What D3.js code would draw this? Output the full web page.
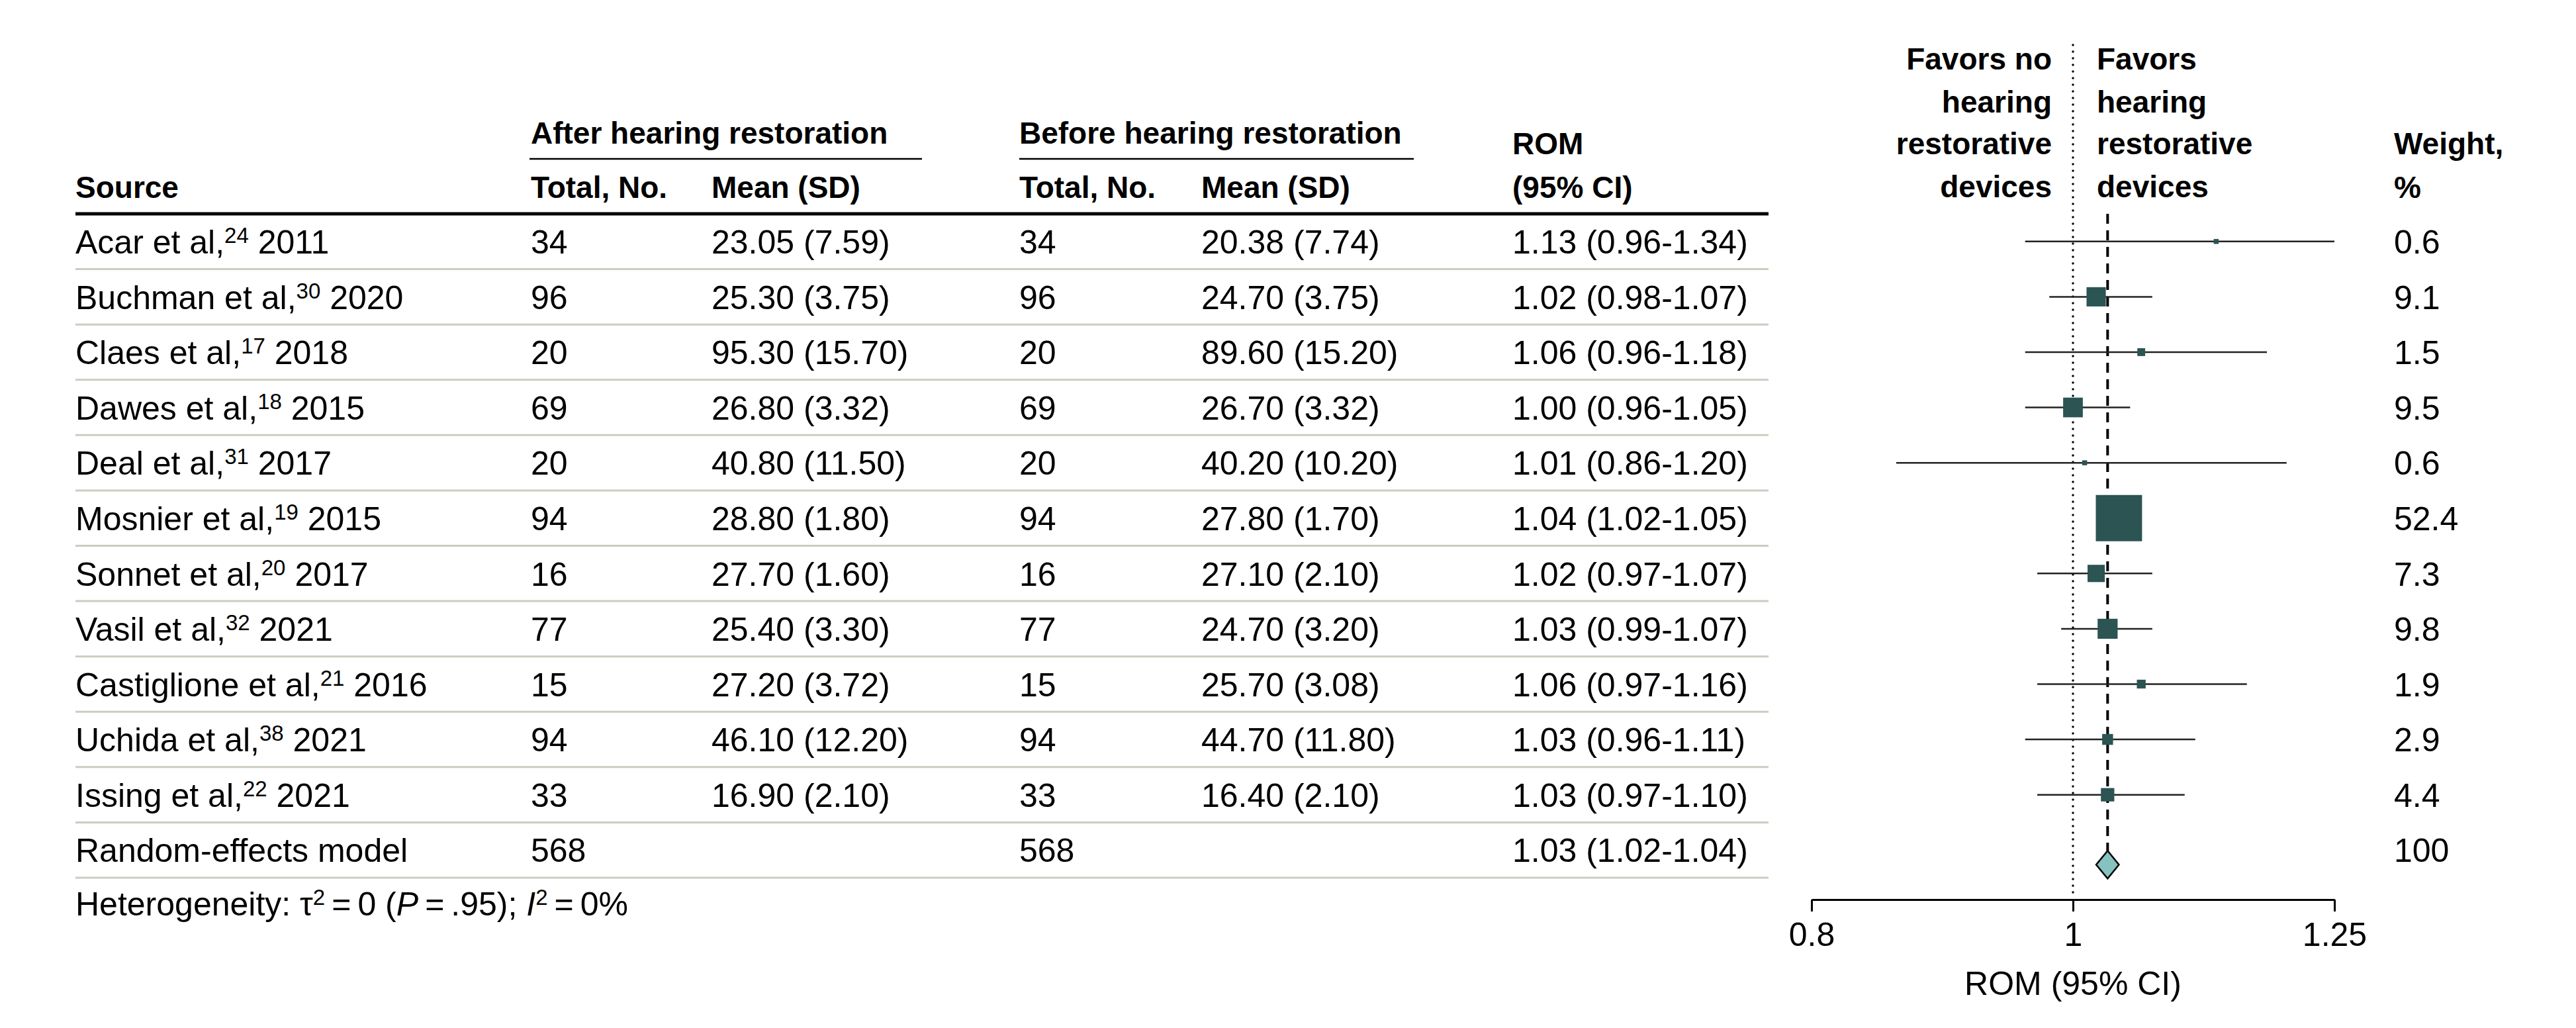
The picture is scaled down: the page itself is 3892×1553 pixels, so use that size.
<!DOCTYPE html>
<html>
<head>
<meta charset="utf-8">
<script src="https://cdn.jsdelivr.net/npm/d3@7"></script>
<style>
    body { margin: 0; background: #fff; }
    svg text { font-family: "Liberation Sans", Arial, sans-serif; fill: #000; }
    .hd { font-weight: bold; font-size: 46px; }
    .cell { font-size: 50px; }
</style>
</head>
<body>
<div id="chart"></div>
<script>
    // study rows
    var authors = ["Acar et al,", "Buchman et al,", "Claes et al,", "Dawes et al,", "Deal et al,",
        "Mosnier et al,", "Sonnet et al,", "Vasil et al,", "Castiglione et al,", "Uchida et al,", "Issing et al,"];
    var refs = ["24", "30", "17", "18", "31", "19", "20", "32", "21", "38", "22"];
    var years = ["2011", "2020", "2018", "2015", "2017", "2015", "2017", "2021", "2016", "2021", "2021"];
    var afterTotal = [34, 96, 20, 69, 20, 94, 16, 77, 15, 94, 33];
    var afterMeanSd = ["23.05 (7.59)", "25.30 (3.75)", "95.30 (15.70)", "26.80 (3.32)", "40.80 (11.50)",
        "28.80 (1.80)", "27.70 (1.60)", "25.40 (3.30)", "27.20 (3.72)", "46.10 (12.20)", "16.90 (2.10)"];
    var beforeTotal = [34, 96, 20, 69, 20, 94, 16, 77, 15, 94, 33];
    var beforeMeanSd = ["20.38 (7.74)", "24.70 (3.75)", "89.60 (15.20)", "26.70 (3.32)", "40.20 (10.20)",
        "27.80 (1.70)", "27.10 (2.10)", "24.70 (3.20)", "25.70 (3.08)", "44.70 (11.80)", "16.40 (2.10)"];
    var rom = [1.13, 1.02, 1.06, 1.00, 1.01, 1.04, 1.02, 1.03, 1.06, 1.03, 1.03];
    var romLow = [0.96, 0.98, 0.96, 0.96, 0.86, 1.02, 0.97, 0.99, 0.97, 0.96, 0.97];
    var romHigh = [1.34, 1.07, 1.18, 1.05, 1.20, 1.05, 1.07, 1.07, 1.16, 1.11, 1.10];
    var weights = [0.6, 9.1, 1.5, 9.5, 0.6, 52.4, 7.3, 9.8, 1.9, 2.9, 4.4];

    // pooled
    var pooledLabel = "Random-effects model";
    var pooledAfterTotal = 568, pooledBeforeTotal = 568;
    var pooledRom = 1.03, pooledLow = 1.02, pooledHigh = 1.04, pooledWeight = 100;

    var axisTicks = [0.8, 1, 1.25];

    var W = 3892, H = 1553;
    var colX = {source: 114, tot1: 802, mean1: 1075, tot2: 1540, mean2: 1815, rom: 2285, weight: 3617};
    var tableLeft = 114, tableRight = 2672;
    var nRows = authors.length + 1;
    var supSize = 33, supShift = 16;

    var svg = d3.select("#chart").append("svg")
        .attr("width", W).attr("height", H);

    var y = d3.scaleLinear().domain([0, nRows]).range([323, 1326]);
    var x = d3.scaleLog().domain([0.8, 1.25]).range([2737, 3527]);
    var f2 = d3.format(".2f");

    // ----- header -----
    var hdr = svg.append("g");
    function hText(tx, ty, s, anchor) {
        hdr.append("text").attr("class", "hd").attr("x", tx).attr("y", ty)
            .attr("text-anchor", anchor || "start").text(s);
    }
    hText(colX.tot1, 217, "After hearing restoration");
    hText(colX.tot2, 217, "Before hearing restoration");
    hdr.append("line").attr("x1", 800).attr("x2", 1393).attr("y1", 240).attr("y2", 240)
        .attr("stroke", "#000").attr("stroke-width", 2.5);
    hdr.append("line").attr("x1", 1540).attr("x2", 2136).attr("y1", 240).attr("y2", 240)
        .attr("stroke", "#000").attr("stroke-width", 2.5);
    hText(colX.source, 299, "Source");
    hText(colX.tot1, 299, "Total, No.");
    hText(colX.mean1, 299, "Mean (SD)");
    hText(colX.tot2, 299, "Total, No.");
    hText(colX.mean2, 299, "Mean (SD)");
    hText(colX.rom, 233, "ROM");
    hText(colX.rom, 299, "(95% CI)");
    hText(colX.weight, 233, "Weight,");
    hText(colX.weight, 299, "%");

    var favL = ["Favors no", "hearing", "restorative", "devices"];
    var favR = ["Favors", "hearing", "restorative", "devices"];
    var favY = [105, 170, 233, 298];
    favL.forEach(function (s, i) { hText(3100, favY[i], s, "end"); });
    favR.forEach(function (s, i) { hText(3168, favY[i], s); });

    // ----- table rules -----
    svg.append("g").selectAll("line")
        .data(d3.range(1, nRows + 1))
        .enter().append("line")
        .attr("x1", tableLeft).attr("x2", tableRight)
        .attr("y1", function (d) { return y(d); }).attr("y2", function (d) { return y(d); })
        .attr("stroke", "#c9cec0").attr("stroke-width", 3);
    svg.append("line").attr("x1", tableLeft).attr("x2", tableRight)
        .attr("y1", y(0)).attr("y2", y(0))
        .attr("stroke", "#000").attr("stroke-width", 5);

    // ----- table body -----
    var base = function (i) { return y(i) + 60; };
    var body = svg.append("g").attr("class", "cell");

    var rows = body.selectAll("g.row")
        .data(authors.map(function (a, i) { return i; }))
        .enter().append("g").attr("class", "row");

    var src = rows.append("text").attr("class", "cell")
        .attr("x", colX.source).attr("y", function (i) { return base(i); });
    src.append("tspan").text(function (i) { return authors[i]; });
    src.append("tspan").attr("font-size", supSize).attr("dy", -supShift).text(function (i) { return refs[i]; });
    src.append("tspan").attr("dy", supShift).text(function (i) { return " " + years[i]; });

    function col(key, fn) {
        rows.append("text").attr("class", "cell").attr("x", colX[key])
            .attr("y", function (i) { return base(i); }).text(fn);
    }
    col("tot1", function (i) { return afterTotal[i]; });
    col("mean1", function (i) { return afterMeanSd[i]; });
    col("tot2", function (i) { return beforeTotal[i]; });
    col("mean2", function (i) { return beforeMeanSd[i]; });
    col("rom", function (i) { return f2(rom[i]) + " (" + f2(romLow[i]) + "-" + f2(romHigh[i]) + ")"; });
    col("weight", function (i) { return d3.format(".1f")(weights[i]); });

    // pooled row
    var pr = authors.length;
    function pText(tx, s) {
        body.append("text").attr("class", "cell").attr("x", tx).attr("y", base(pr)).text(s);
    }
    pText(colX.source, pooledLabel);
    pText(colX.tot1, pooledAfterTotal);
    pText(colX.tot2, pooledBeforeTotal);
    pText(colX.rom, f2(pooledRom) + " (" + f2(pooledLow) + "-" + f2(pooledHigh) + ")");
    pText(colX.weight, pooledWeight);

    // heterogeneity
    var het = svg.append("text").attr("class", "cell").attr("x", colX.source).attr("y", 1383);
    het.append("tspan").text("Heterogeneity: \u03c4");
    het.append("tspan").attr("font-size", supSize).attr("dy", -supShift).text("2");
    het.append("tspan").attr("dy", supShift).text("\u2009=\u20090 (");
    het.append("tspan").attr("font-style", "italic").text("P");
    het.append("tspan").text("\u2009=\u2009.95); ");
    het.append("tspan").attr("font-style", "italic").text("I");
    het.append("tspan").attr("font-size", supSize).attr("dy", -supShift).text("2");
    het.append("tspan").attr("dy", supShift).text("\u2009=\u20090%");

    // ----- forest plot -----
    var plot = svg.append("g");
    var mid = function (i) { return y(i + 0.5); };

    // no-effect line (dotted)
    plot.append("line").attr("x1", x(1)).attr("x2", x(1)).attr("y1", 68).attr("y2", 1352)
        .attr("stroke", "#000").attr("stroke-width", 3.5)
        .attr("stroke-linecap", "round").attr("stroke-dasharray", "0,10");

    // pooled estimate line (dashed)
    var dY = mid(pr) + 22;
    plot.append("line").attr("x1", x(pooledRom)).attr("x2", x(pooledRom))
        .attr("y1", y(0)).attr("y2", dY - 21)
        .attr("stroke", "#000").attr("stroke-width", 4).attr("stroke-dasharray", "15,10");

    var lo = x.domain()[0], hi = x.domain()[1];
    plot.selectAll("line.ci")
        .data(d3.range(authors.length))
        .enter().append("line").attr("class", "ci")
        .attr("x1", function (i) { return x(Math.max(lo, romLow[i])); })
        .attr("x2", function (i) { return x(Math.min(hi, romHigh[i])); })
        .attr("y1", mid).attr("y2", mid)
        .attr("stroke", "#222").attr("stroke-width", 2.5);

    var side = function (i) { return 9.65 * Math.sqrt(weights[i]); };
    plot.selectAll("rect.pt")
        .data(d3.range(authors.length))
        .enter().append("rect").attr("class", "pt")
        .attr("x", function (i) { return x(rom[i]) - side(i) / 2; })
        .attr("y", function (i) { return mid(i) - side(i) / 2; })
        .attr("width", side).attr("height", side)
        .attr("fill", "#2b5453");

    plot.append("path")
        .attr("d", "M" + x(pooledLow) + "," + dY + "L" + x(pooledRom) + "," + (dY - 21) +
            "L" + x(pooledHigh) + "," + dY + "L" + x(pooledRom) + "," + (dY + 21) + "Z")
        .attr("fill", "#85c2c0").attr("stroke", "#000").attr("stroke-width", 2.5);

    // axis
    var axis = d3.axisBottom(x).tickValues(axisTicks)
        .tickFormat(function (d) { return d === 1 ? "1" : String(d); })
        .tickSize(18).tickSizeOuter(0).tickPadding(16);
    var ax = svg.append("g").attr("transform", "translate(0,1359)").call(axis);
    ax.select(".domain").attr("stroke", "#000").attr("stroke-width", 3);
    ax.selectAll(".tick line").attr("stroke", "#000").attr("stroke-width", 3);
    ax.selectAll(".tick text").attr("class", "cell")
        .attr("font-family", null).attr("font-size", null).attr("fill", "#000");

    svg.append("text").attr("class", "cell").attr("x", x(1)).attr("y", 1503)
        .attr("text-anchor", "middle").text("ROM (95% CI)");
</script>
</body>
</html>
